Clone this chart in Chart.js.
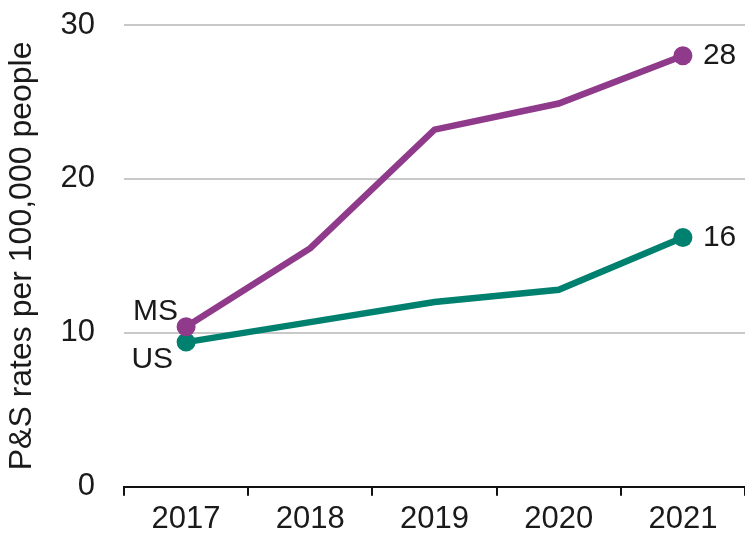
<!DOCTYPE html>
<html>
<head>
<meta charset="utf-8">
<script src="https://cdn.jsdelivr.net/npm/chart.js@4/dist/chart.umd.min.js"></script>
<style>
  html, body { margin: 0; padding: 0; background: #fff; }
  #wrap { width: 745px; height: 542px; }
</style>
</head>
<body>
<div id="wrap"><canvas id="chart"></canvas></div>
<script>
// datos
const years = ['2017', '2018', '2019', '2020', '2021'];
const msRates = [10.4, 15.5, 23.2, 24.9, 28];
const usRates = [9.4, 10.7, 12.0, 12.8, 16.2];
const yTicks = [0, 10, 20, 30];
const seriesNames = ['MS', 'US'];

const purple = '#8f3a8b';
const teal = '#00806f';
const fontName = '"Liberation Sans", Arial, Helvetica, sans-serif';

// etiquetas al inicio y al final de cada línea
const endLabels = {
    id: 'endLabels',
    afterDatasetsDraw(chart) {
        const ctx = chart.ctx;
        const x = chart.scales.x;
        const y = chart.scales.y;
        ctx.save();
        ctx.font = '30px ' + fontName;
        ctx.fillStyle = '#1a1a1a';
        ctx.textBaseline = 'middle';
        const last = years.length - 1;
        // valores finales
        ctx.textAlign = 'left';
        ctx.fillText(String(Math.round(msRates[last])), x.getPixelForValue(last) + 20, y.getPixelForValue(msRates[last]));
        ctx.fillText(String(Math.round(usRates[last])), x.getPixelForValue(last) + 20, y.getPixelForValue(usRates[last]));
        // nombres de series
        ctx.textAlign = 'right';
        ctx.fillText(seriesNames[0], x.getPixelForValue(0) - 8, y.getPixelForValue(msRates[0]) - 15);
        ctx.fillText(seriesNames[1], x.getPixelForValue(0) - 13, y.getPixelForValue(usRates[0]) + 18);
        ctx.restore();
    }
};

document.addEventListener('DOMContentLoaded', function() {
    const ctx = document.getElementById('chart').getContext('2d');
    const endPoints = years.map((_, i) => (i === 0 || i === years.length - 1) ? 9.5 : 0);
    new Chart(ctx, {
        type: 'line',
        data: {
            labels: years,
            datasets: [
                {
                    label: seriesNames[0],
                    data: msRates,
                    borderColor: purple,
                    backgroundColor: purple,
                    borderWidth: 6.5,
                    pointRadius: endPoints,
                    pointBorderWidth: 0,
                    tension: 0
                },
                {
                    label: seriesNames[1],
                    data: usRates,
                    borderColor: teal,
                    backgroundColor: teal,
                    borderWidth: 6.5,
                    pointRadius: endPoints,
                    pointBorderWidth: 0,
                    tension: 0
                }
            ]
        },
        options: {
            responsive: true,
            maintainAspectRatio: false,
            animation: false,
            layout: { autoPadding: false, padding: { top: 25, right: 0, bottom: -1, left: 0 } },
            plugins: {
                legend: { display: false },
                tooltip: { enabled: false }
            },
            scales: {
                x: {
                    offset: true,
                    grid: {
                        offset: true,
                        drawOnChartArea: false,
                        drawTicks: true,
                        tickLength: 9,
                        color: '#111',
                        lineWidth: 2
                    },
                    border: { display: true, color: '#111', width: 2 },
                    ticks: {
                        color: '#1a1a1a',
                        font: { family: fontName, size: 31 },
                        padding: 5,
                        maxRotation: 0
                    }
                },
                y: {
                    min: 0,
                    max: 30,
                    afterBuildTicks(scale) {
                        scale.ticks = yTicks.map(v => ({ value: v }));
                    },
                    afterFit(scale) {
                        scale.width = 124;
                        // sin relleno extra arriba/abajo
                        scale.paddingTop = 0;
                        scale.paddingBottom = 0;
                    },
                    grid: {
                        drawTicks: false,
                        color: (c) => c.tick && c.tick.value === 0 ? 'rgba(0,0,0,0)' : '#c9c9c9',
                        lineWidth: 2
                    },
                    border: { display: false },
                    ticks: {
                        color: '#1a1a1a',
                        font: { family: fontName, size: 31 },
                        padding: 29
                    },
                    title: {
                        display: true,
                        text: 'P&S rates per 100,000 people',
                        color: '#1a1a1a',
                        font: { family: fontName, size: 32 },
                        padding: { top: 3, bottom: 0 }
                    }
                }
            }
        },
        plugins: [endLabels]
    });
});
</script>
</body>
</html>
